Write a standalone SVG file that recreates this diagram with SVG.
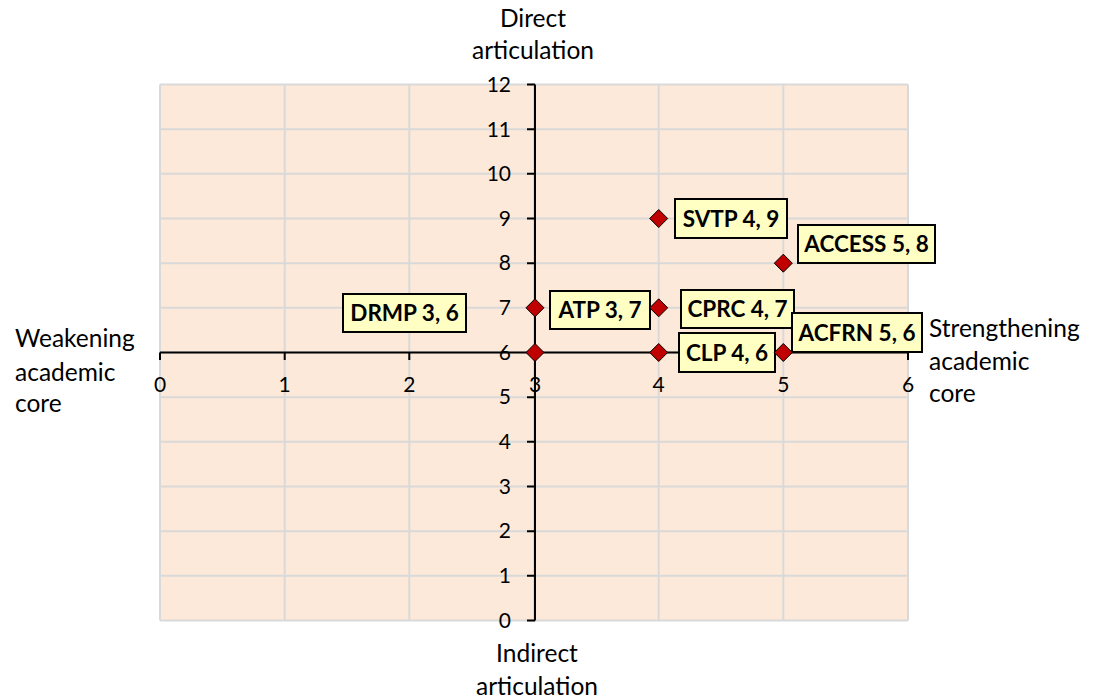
<svg xmlns="http://www.w3.org/2000/svg" width="1100" height="700" viewBox="0 0 1100 700">
<style>
.grid{stroke:#D9D9D9;stroke-width:2;fill:none}
.axis{stroke:#000;stroke-width:2;fill:none}
.tick{font-family:Lato,"Liberation Sans",sans-serif;font-size:21px;fill:#000}
.title{font-family:Lato,"Liberation Sans",sans-serif;font-size:24.5px;fill:#000}
.box{fill:#FFFFC4;stroke:#000;stroke-width:2}
.lbl{font-family:Lato,"Liberation Sans",sans-serif;font-size:22.5px;font-weight:bold;fill:#000;text-anchor:middle}
.pt{fill:#C00000;stroke:#000;stroke-width:1}
</style>
<defs>
<path id="dia" d="M0,-9 L9,0 L0,9 L-9,0 Z"/>
</defs>
<rect width="1100" height="700" fill="#fff"/>
<g id="plot">
<rect x="160" y="84.5" width="748" height="536" fill="#FDE9D9"/>
<g class="grid">
<path d="M160,84.5V620.5M284.7,84.5V620.5M409.3,84.5V620.5M534,84.5V620.5M658.7,84.5V620.5M783.3,84.5V620.5M908,84.5V620.5"/>
<path d="M160,84.5H908M160,129.2H908M160,173.8H908M160,218.5H908M160,263.2H908M160,307.8H908M160,352.5H908M160,397.2H908M160,441.8H908M160,486.5H908M160,531.2H908M160,575.8H908M160,620.5H908"/>
</g>
</g>
<g id="axes">
<path class="axis" d="M535,84.5V620.5M160,352.5H908"/>
<path class="axis" d="M527,84.5H535M527,129.2H535M527,173.8H535M527,218.5H535M527,263.2H535M527,307.8H535M527,352.5H535M527,397.2H535M527,441.8H535M527,486.5H535M527,531.2H535M527,575.8H535M527,620.5H535"/>
<path class="axis" d="M160,352.5V360M284.7,352.5V360M409.3,352.5V360M534,352.5V360M658.7,352.5V360M783.3,352.5V360M908,352.5V360"/>
<g class="tick" text-anchor="end">
<text x="511" y="92">12</text>
<text x="511" y="136.5">11</text>
<text x="511" y="181">10</text>
<text x="511" y="225.5">9</text>
<text x="511" y="270">8</text>
<text x="511" y="315">7</text>
<text x="511" y="359.5">6</text>
<text x="511" y="404">5</text>
<text x="511" y="449">4</text>
<text x="511" y="493.5">3</text>
<text x="511" y="538">2</text>
<text x="511" y="583">1</text>
<text x="511" y="627.5">0</text>
</g>
<g class="tick" text-anchor="middle">
<text x="160" y="392">0</text>
<text x="284.7" y="392">1</text>
<text x="409.3" y="392">2</text>
<text x="535" y="392">3</text>
<text x="658.7" y="392">4</text>
<text x="783.3" y="392">5</text>
<text x="908" y="392">6</text>
</g>
</g>
<g id="axis-titles" class="title">
<text x="533" y="27" text-anchor="middle">Direct</text>
<text x="533" y="59" text-anchor="middle">articulation</text>
<text x="537" y="662" text-anchor="middle">Indirect</text>
<text x="537" y="695" text-anchor="middle">articulation</text>
<text x="15" y="347">Weakening</text>
<text x="15" y="381">academic</text>
<text x="15" y="412">core</text>
<text x="929" y="337">Strengthening</text>
<text x="929" y="370">academic</text>
<text x="929" y="402">core</text>
</g>
<g id="node-drmp"><rect class="box" x="343" y="294" width="123" height="38"/><text class="lbl" x="404.5" y="321">DRMP 3, 6</text></g>
<g id="node-atp"><rect class="box" x="550" y="291" width="100" height="38"/><text class="lbl" x="600" y="318">ATP 3, 7</text></g>
<g id="node-cprc"><rect class="box" x="681" y="290" width="113" height="38"/><text class="lbl" x="737.5" y="317">CPRC 4, 7</text></g>
<g id="node-acfrn"><rect class="box" x="792" y="313" width="130" height="39"/><text class="lbl" x="857" y="341">ACFRN 5, 6</text></g>
<g id="node-clp"><rect class="box" x="679" y="333" width="96" height="39"/><text class="lbl" x="727" y="361">CLP 4, 6</text></g>
<g id="node-svtp"><rect class="box" x="675" y="199" width="112" height="39"/><text class="lbl" x="731" y="227">SVTP 4, 9</text></g>
<g id="node-access"><rect class="box" x="798" y="225" width="137" height="38"/><text class="lbl" x="866.5" y="252">ACCESS 5, 8</text></g>
<g id="points">
<use href="#dia" class="pt" x="535" y="307.8"/>
<use href="#dia" class="pt" x="535" y="352.5"/>
<use href="#dia" class="pt" x="658.7" y="218.5"/>
<use href="#dia" class="pt" x="658.7" y="307.8"/>
<use href="#dia" class="pt" x="658.7" y="352.5"/>
<use href="#dia" class="pt" x="783.3" y="263.2"/>
<use href="#dia" class="pt" x="783.3" y="352.5"/>
</g>
</svg>
